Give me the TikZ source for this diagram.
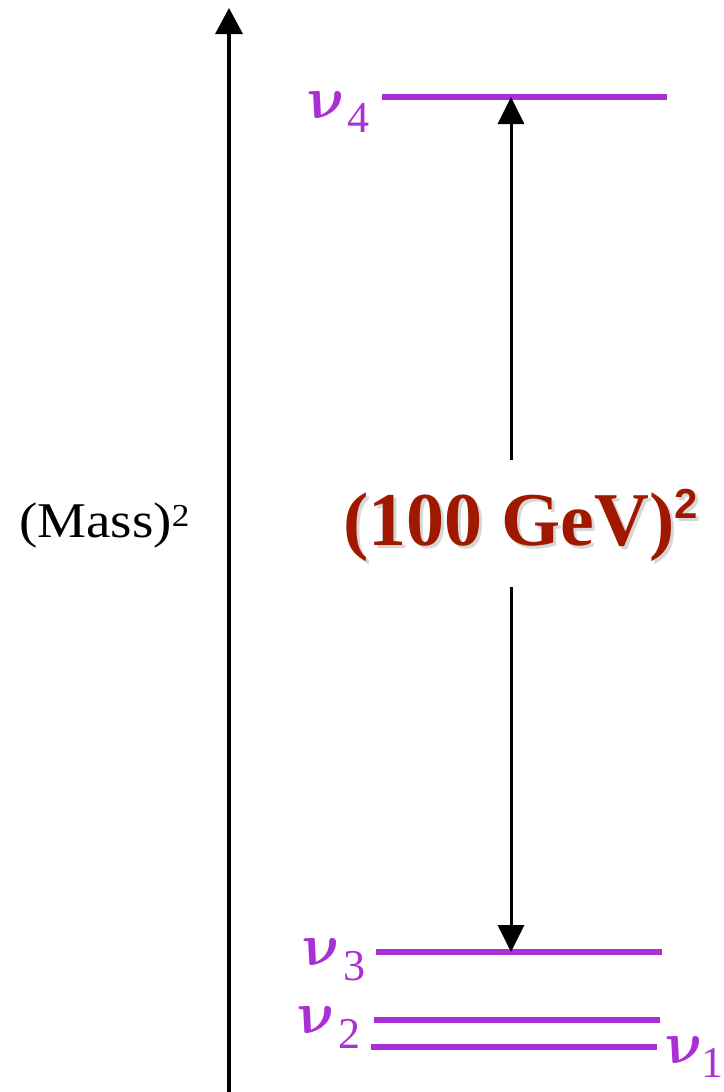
\documentclass[tikz,border=0pt]{standalone}
\usepackage{bm}
\usepackage{fontspec}
\setmainfont{Liberation Serif}
\newfontfamily\supsans{Liberation Sans}
\usetikzlibrary{arrows.meta}
\definecolor{lvl}{RGB}{170,48,214}
\definecolor{gev}{RGB}{160,24,0}
\definecolor{shade}{RGB}{215,215,215}
\newcommand{\bignu}{\scalebox{6.0}{$\bm{\nu}$}}
\tikzset{
  level/.style={draw=lvl, line width=5.5pt},
  axisline/.style={draw=black, line width=3.5pt, -{Triangle[width=27pt,length=26pt]}},
  gap/.style={draw=black, line width=3pt, -{Triangle[width=26pt,length=27pt]}},
  nuglyph/.style={text=lvl, inner sep=0pt, anchor=base west, xslant=-0.3},
  nusub/.style={text=lvl, inner sep=0pt, anchor=base west, font=\fontsize{44}{44}\selectfont},
}
\begin{document}
\begin{tikzpicture}[x=1pt,y=-1pt]
\useasboundingbox (0,0) rectangle (723,1092);
% axis
\coordinate (ax0) at (229,1092);
\coordinate (ax1) at (229,8);
\draw[axisline] (ax0) -- (ax1);
\node[anchor=base west, inner sep=0pt] (mass) at (19,537)
  {\scalebox{1.1}[1]{\fontsize{50}{50}\selectfont (Mass)\raisebox{11pt}{\fontsize{32}{32}\selectfont 2}}};
% levels
\coordinate (l4a) at (382,97);  \coordinate (l4b) at (667,97);
\coordinate (l3a) at (376,952); \coordinate (l3b) at (662,952);
\coordinate (l2a) at (374,1020); \coordinate (l2b) at (660,1020);
\coordinate (l1a) at (371,1047); \coordinate (l1b) at (657,1047);
\draw[level] (l4a) -- (l4b);
\draw[level] (l3a) -- (l3b);
\draw[level] (l2a) -- (l2b);
\draw[level] (l1a) -- (l1b);
% labels
\node[nuglyph] (n4) at (312,118) {\bignu};
\node[nusub] (s4) at (347,132) {4};
\node[nuglyph] (n3) at (307,965) {\bignu};
\node[nusub] (s3) at (343,980) {3};
\node[nuglyph] (n2) at (302,1033) {\bignu};
\node[nusub] (s2) at (338,1048) {2};
\node[nuglyph] (n1) at (670,1063) {\bignu};
\node[nusub] (s1) at (701,1077) {1};
% gap arrow
\coordinate (g4) at (511,97);
\coordinate (g3) at (511,952);
\coordinate (gt) at (511,460);
\coordinate (gb) at (511,587);
\draw[gap] (gt) -- (g4);
\draw[gap] (gb) -- (g3);
% big label with shadow
\node[anchor=base west, inner sep=0pt, text=shade] (gevshadow) at (346,548)
  {\fontsize{76}{76}\selectfont\bfseries (100 GeV)\raisebox{27pt}{\supsans\bfseries\fontsize{42}{42}\selectfont 2}};
\node[anchor=base west, inner sep=0pt, text=gev] (gevlab) at (343,545)
  {\fontsize{76}{76}\selectfont\bfseries (100 GeV)\raisebox{27pt}{\supsans\bfseries\fontsize{42}{42}\selectfont 2}};
\end{tikzpicture}
\end{document}
